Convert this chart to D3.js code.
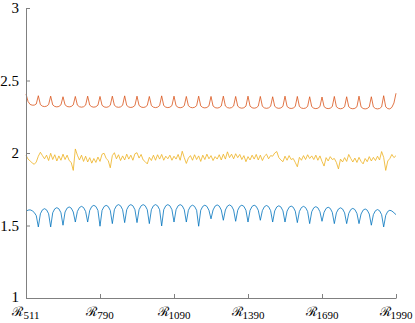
<!DOCTYPE html>
<html>
<head>
<meta charset="utf-8">
<script src="https://cdn.jsdelivr.net/npm/d3@7"></script>
<style>
  body { margin: 0; background: #fff; }
  svg { display: block; }
</style>
</head>
<body>
<div id="chart"></div>
<script>
// sample index along the run, 6 samples per period, 30 periods
const xTickIdx = [0, 36, 72, 108, 144, 180]
const xTickSub = ["511", "790", "1090", "1390", "1690", "1990"]
const yTicks = [1, 1.5, 2, 2.5, 3]

const orange = [
  2.407, 2.355, 2.335, 2.330, 2.330, 2.338,
  2.395, 2.334, 2.323, 2.320, 2.323, 2.334,
  2.392, 2.332, 2.321, 2.318, 2.321, 2.332,
  2.388, 2.332, 2.321, 2.318, 2.321, 2.332,
  2.390, 2.330, 2.319, 2.316, 2.319, 2.330,
  2.392, 2.330, 2.319, 2.316, 2.319, 2.330,
  2.390, 2.329, 2.318, 2.315, 2.318, 2.329,
  2.392, 2.329, 2.318, 2.315, 2.318, 2.329,
  2.394, 2.328, 2.317, 2.314, 2.317, 2.328,
  2.392, 2.328, 2.317, 2.314, 2.317, 2.328,
  2.390, 2.327, 2.316, 2.313, 2.316, 2.327,
  2.394, 2.327, 2.316, 2.313, 2.316, 2.327,
  2.392, 2.326, 2.315, 2.312, 2.315, 2.326,
  2.390, 2.326, 2.315, 2.312, 2.315, 2.326,
  2.392, 2.325, 2.314, 2.311, 2.314, 2.325,
  2.390, 2.324, 2.313, 2.310, 2.313, 2.324,
  2.392, 2.324, 2.313, 2.310, 2.313, 2.324,
  2.390, 2.323, 2.312, 2.309, 2.312, 2.323,
  2.392, 2.323, 2.312, 2.309, 2.312, 2.323,
  2.390, 2.322, 2.311, 2.308, 2.311, 2.322,
  2.388, 2.322, 2.311, 2.308, 2.311, 2.322,
  2.392, 2.321, 2.310, 2.307, 2.310, 2.321,
  2.390, 2.321, 2.310, 2.307, 2.310, 2.321,
  2.388, 2.320, 2.309, 2.306, 2.309, 2.320,
  2.386, 2.320, 2.309, 2.306, 2.309, 2.320,
  2.390, 2.319, 2.308, 2.305, 2.308, 2.319,
  2.388, 2.319, 2.308, 2.305, 2.308, 2.319,
  2.392, 2.318, 2.307, 2.304, 2.307, 2.318,
  2.388, 2.318, 2.307, 2.304, 2.307, 2.318,
  2.395, 2.318, 2.306, 2.304, 2.315, 2.345,
  2.412
]

const yellow = [
  1.985, 1.958, 1.945, 1.932, 1.922, 1.938, 1.978, 2.005, 1.982, 1.960,
  1.985, 1.948, 1.998, 1.955, 1.988, 1.945, 1.980, 1.950, 1.992, 1.955,
  1.985, 1.948, 1.935, 1.880, 2.028, 1.985, 1.952, 1.985, 1.942, 1.978,
  1.938, 1.968, 1.930, 1.962, 1.935, 1.972, 1.942, 1.992, 1.998, 1.962,
  1.948, 1.898, 1.982, 2.002, 1.960, 1.988, 1.948, 1.980, 1.952, 1.992,
  1.958, 1.985, 1.950, 1.995, 2.002, 1.965, 1.990, 1.952, 1.940, 1.925,
  1.970, 1.948, 1.985, 1.950, 1.988, 1.958, 1.990, 1.950, 1.978, 1.960,
  1.985, 1.950, 1.978, 1.958, 1.990, 1.950, 2.012, 1.968, 1.928, 1.965,
  1.982, 1.950, 1.988, 1.955, 1.980, 1.942, 1.985, 1.955, 1.992, 1.960,
  1.982, 1.948, 1.975, 1.958, 1.988, 1.952, 1.992, 1.958, 2.008, 1.968,
  1.992, 1.960, 1.995, 1.968, 1.990, 1.955, 1.982, 1.940, 1.975, 1.952,
  1.985, 1.958, 1.990, 1.952, 1.985, 1.948, 1.978, 1.992, 1.960, 1.982,
  1.978, 2.000, 2.010, 1.968, 1.952, 1.940, 1.978, 1.950, 1.982, 1.955,
  1.962, 1.935, 1.905, 1.970, 1.950, 1.982, 1.955, 1.988, 1.962, 1.980,
  1.955, 1.985, 1.950, 1.980, 1.942, 1.910, 1.968, 1.945, 1.975, 1.955,
  1.962, 1.935, 1.890, 1.958, 1.938, 1.968, 1.942, 1.990, 1.962, 1.938,
  1.965, 1.935, 1.970, 1.942, 1.925, 1.962, 1.940, 1.975, 1.945, 1.970,
  1.948, 1.978, 1.952, 2.010, 1.970, 1.880, 1.945, 1.962, 1.990, 1.968,
  1.982
]

const blue = [
  1.598, 1.606, 1.608, 1.602, 1.590, 1.568,
  1.490, 1.581, 1.608, 1.616, 1.608, 1.581,
  1.490, 1.588, 1.615, 1.623, 1.615, 1.588,
  1.502, 1.593, 1.620, 1.628, 1.620, 1.593,
  1.524, 1.597, 1.624, 1.632, 1.624, 1.597,
  1.524, 1.604, 1.631, 1.639, 1.631, 1.604,
  1.495, 1.604, 1.631, 1.639, 1.631, 1.604,
  1.513, 1.609, 1.636, 1.644, 1.636, 1.609,
  1.520, 1.609, 1.636, 1.644, 1.636, 1.609,
  1.520, 1.609, 1.636, 1.644, 1.636, 1.609,
  1.513, 1.609, 1.636, 1.644, 1.636, 1.609,
  1.497, 1.609, 1.636, 1.644, 1.636, 1.609,
  1.524, 1.609, 1.636, 1.644, 1.636, 1.609,
  1.524, 1.605, 1.632, 1.640, 1.632, 1.605,
  1.495, 1.605, 1.632, 1.640, 1.632, 1.605,
  1.546, 1.607, 1.634, 1.642, 1.634, 1.607,
  1.536, 1.607, 1.634, 1.642, 1.634, 1.607,
  1.529, 1.605, 1.632, 1.640, 1.632, 1.605,
  1.524, 1.605, 1.632, 1.640, 1.632, 1.605,
  1.536, 1.603, 1.630, 1.638, 1.630, 1.603,
  1.524, 1.601, 1.628, 1.636, 1.628, 1.601,
  1.524, 1.599, 1.626, 1.634, 1.626, 1.599,
  1.520, 1.597, 1.624, 1.632, 1.624, 1.597,
  1.513, 1.595, 1.622, 1.630, 1.622, 1.595,
  1.529, 1.591, 1.618, 1.626, 1.618, 1.591,
  1.513, 1.587, 1.614, 1.622, 1.614, 1.587,
  1.513, 1.583, 1.610, 1.618, 1.610, 1.583,
  1.513, 1.579, 1.606, 1.614, 1.606, 1.579,
  1.502, 1.575, 1.602, 1.610, 1.602, 1.575,
  1.490, 1.570, 1.597, 1.605, 1.600, 1.588,
  1.575
]

const width = 415
const height = 323
const margin = { top: 8, right: 19, bottom: 25, left: 26 }

const svg = d3.select("#chart").append("svg")
  .attr("width", width)
  .attr("height", height)

const x = d3.scaleLinear()
  .domain([0, 180])
  .range([margin.left, width - margin.right])

const y = d3.scaleLinear()
  .domain([1, 3])
  .range([height - margin.bottom, margin.top])

const axisColor = "#808080"
const serif = "'Liberation Serif', 'Times New Roman', serif"

// lines first, axes on top like matlab
const line = d3.line()
  .x((d, i) => x(i))
  .y(d => y(d))

const series = [
  { values: blue, color: "#0072BD" },
  { values: orange, color: "#D95319" },
  { values: yellow, color: "#EDB120" }
]

svg.append("g")
  .attr("fill", "none")
  .attr("stroke-width", 0.8)
  .attr("stroke-linejoin", "round")
  .selectAll("path")
  .data(series)
  .join("path")
  .attr("stroke", d => d.color)
  .attr("d", d => line(d.values))

const yAxis = svg.append("g")
  .attr("transform", `translate(${margin.left},0)`)
  .call(d3.axisLeft(y).tickValues(yTicks).tickSize(-4).tickSizeOuter(0).tickPadding(7)
    .tickFormat(d3.format("")))

yAxis.select(".domain").attr("stroke", axisColor)
yAxis.selectAll(".tick line").attr("stroke", axisColor)
yAxis.selectAll(".tick text")
  .attr("font-family", serif)
  .attr("font-size", 15)
  .attr("dy", d => d === 1 ? "0.2em" : "0.3em")
  .attr("fill", "#000")

const xAxis = svg.append("g")
  .attr("transform", `translate(0,${height - margin.bottom})`)
  .call(d3.axisBottom(x).tickValues(xTickIdx).tickSize(-4).tickSizeOuter(0).tickFormat(""))

xAxis.select(".domain").attr("stroke", axisColor)
xAxis.selectAll(".tick line").attr("stroke", axisColor)

// calligraphic R with subscript run number
const xLab = svg.append("g")
  .selectAll("text")
  .data(xTickIdx)
  .join("text")
  .attr("x", d => x(d))
  .attr("y", height - 7)
  .attr("text-anchor", "middle")
  .attr("fill", "#000")
  .attr("font-family", serif)

xLab.append("tspan")
  .attr("font-size", 13)
  .attr("font-family", "'DejaVu Sans', serif")
  .attr("font-weight", 200)
  .text("\u211B")

xLab.append("tspan")
  .attr("font-size", 11)
  .attr("dy", 3)
  .text((d, i) => xTickSub[i])
</script>
</body>
</html>
